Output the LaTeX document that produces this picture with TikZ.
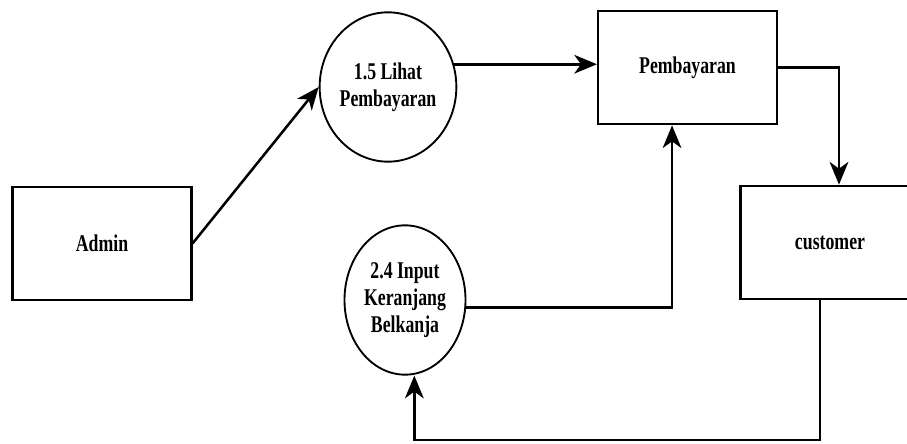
\documentclass[tikz,border=0pt]{standalone}
\usepackage{fontspec}
\setmainfont{Liberation Serif}[FakeStretch=0.74]
\usetikzlibrary{shapes.geometric,arrows.meta}
\begin{document}
\begin{tikzpicture}[x=0.75pt,y=-0.75pt,
    entity/.style={draw,line width=1.8pt,minimum width=134pt,minimum height=85pt,
      font=\fontsize{18}{20}\selectfont\bfseries},
    process/.style={draw,ellipse,line width=1.4pt,minimum width=90.75pt,minimum height=112pt,
      inner sep=0pt,align=center,font=\fontsize{18}{20}\selectfont\bfseries},
    flow/.style={draw,line width=1.9pt,-{Stealth[length=17pt,width=14pt,inset=5pt]}}]
  \useasboundingbox (0,0) rectangle (907,443);
  \node[entity] (admin) at (102,243.5) {Admin};
  \node[process] (lihat) at (388,87) {1.5 Lihat\\Pembayaran};
  \node[entity] (bayar) at (687.5,67.5) {Pembayaran};
  \node[entity] (cust) at (830,242.5) {customer};
  \node[process] (input) at (405,300) {2.4 Input\\Keranjang\\Belkanja};
  \coordinate (base) at (0,440);
  \path[flow] (admin.east) to (lihat.west);
  \path[flow] (lihat.19) to (lihat.19 -| bayar.west);
  \path[flow] (bayar.east) -| ([xshift=6.75pt]cust.north);
  \path[flow] ([xshift=-7.5pt]cust.south) -- ([xshift=-7.5pt]cust.south |- base) -| ([xshift=7pt]input.south);
  \path[flow] (input.-7) -| ([xshift=-11.6pt]bayar.south);
\end{tikzpicture}
\end{document}
